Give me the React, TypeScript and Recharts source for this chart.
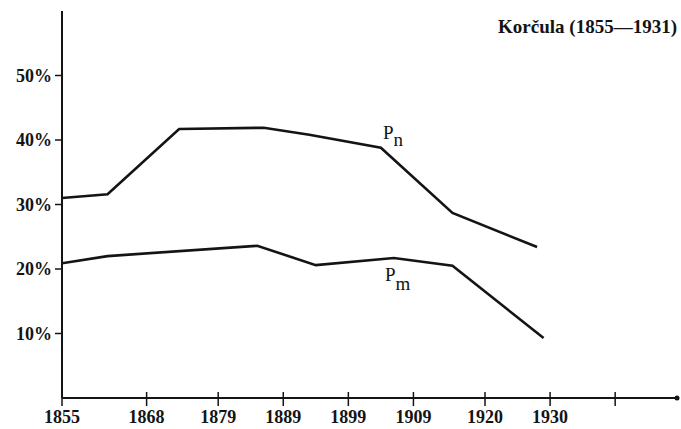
import React from "react";
import { LineChart, Line, XAxis, YAxis, ReferenceDot } from "recharts";

// Korčula (1855—1931): Pn and Pm shares
const pnYears = [1855, 1862, 1873, 1886, 1893, 1904, 1915, 1928];
const pnValues = [31.0, 31.6, 41.7, 41.9, 40.8, 38.8, 28.7, 23.4];

const pmYears = [1855, 1862, 1885, 1894, 1906, 1915, 1929];
const pmValues = [20.9, 22.0, 23.6, 20.6, 21.7, 20.5, 9.3];

const xTicks = [1855, 1868, 1879, 1889, 1899, 1909, 1920, 1930, 1940];
const yTicks = [10, 20, 30, 40, 50];

const INK = "#141414";
const FONT = "'Liberation Serif', serif";

const pnData = pnYears.map((year, i) => ({ year, value: pnValues[i] }));
const pmData = pmYears.map((year, i) => ({ year, value: pmValues[i] }));

const TICK_SIZE = 8;
const TICK_MARGIN = 4;

// ticks on the x axis cross the axis line, and the last one has no label
const XTick = (props: any) => {
  const { x, y, payload } = props;
  const axisY = y - TICK_SIZE - TICK_MARGIN;
  return (
    <g>
      <line x1={x} x2={x} y1={axisY - 6} y2={axisY + 8} stroke={INK} strokeWidth={1.5} />
      {payload.value !== 1940 && (
        <text
          x={x}
          y={axisY + 25}
          textAnchor="middle"
          fill={INK}
          fontFamily={FONT}
          fontWeight="bold"
          fontSize={18}
        >
          {payload.value}
        </text>
      )}
    </g>
  );
};

const YTick = (props: any) => {
  const { x, y, payload } = props;
  return (
    <text
      x={x}
      y={y + 6}
      textAnchor="end"
      fill={INK}
      fontFamily={FONT}
      fontWeight="bold"
      fontSize={18}
    >
      {payload.value}%
    </text>
  );
};

export default function App() {
  return (
    <div
      style={{
        position: "absolute",
        left: 0,
        top: 0,
        width: 681,
        height: 429,
        background: "#fff",
      }}
    >
      <LineChart
        width={681}
        height={429}
        margin={{ top: 11, right: 4, bottom: 0, left: 0 }}
      >
        <XAxis
          type="number"
          dataKey="year"
          domain={[1855, 1949.5]}
          ticks={xTicks}
          allowDataOverflow
          height={31}
          tickSize={TICK_SIZE}
          tickMargin={TICK_MARGIN}
          tickLine={false}
          tick={<XTick />}
          axisLine={{ stroke: INK, strokeWidth: 2 }}
          interval={0}
        />
        <YAxis
          type="number"
          domain={[0, 60]}
          ticks={yTicks}
          width={62}
          tickSize={7}
          tickMargin={3}
          tick={<YTick />}
          tickLine={{ stroke: INK, strokeWidth: 1.5 }}
          axisLine={{ stroke: INK, strokeWidth: 2 }}
          interval={0}
        />
        <Line
          data={pnData}
          dataKey="value"
          stroke={INK}
          strokeWidth={2.6}
          dot={false}
          isAnimationActive={false}
        />
        <Line
          data={pmData}
          dataKey="value"
          stroke={INK}
          strokeWidth={2.6}
          dot={false}
          isAnimationActive={false}
        />
        <ReferenceDot x={1949.5} y={0} r={2.5} fill={INK} stroke="none" ifOverflow="visible" />
      </LineChart>
      <svg
        width={681}
        height={429}
        style={{ position: "absolute", left: 0, top: 0, pointerEvents: "none" }}
      >
        <text
          x={677}
          y={33}
          textAnchor="end"
          fill={INK}
          fontFamily={FONT}
          fontWeight="bold"
          fontSize={19}
        >
          Korčula (1855—1931)
        </text>
        <text x={383} y={139} fill={INK} fontFamily={FONT} fontSize={19}>
          P
          <tspan dy={7}>n</tspan>
        </text>
        <text x={385} y={281} fill={INK} fontFamily={FONT} fontSize={19}>
          P
          <tspan dy={9}>m</tspan>
        </text>
      </svg>
    </div>
  );
}
